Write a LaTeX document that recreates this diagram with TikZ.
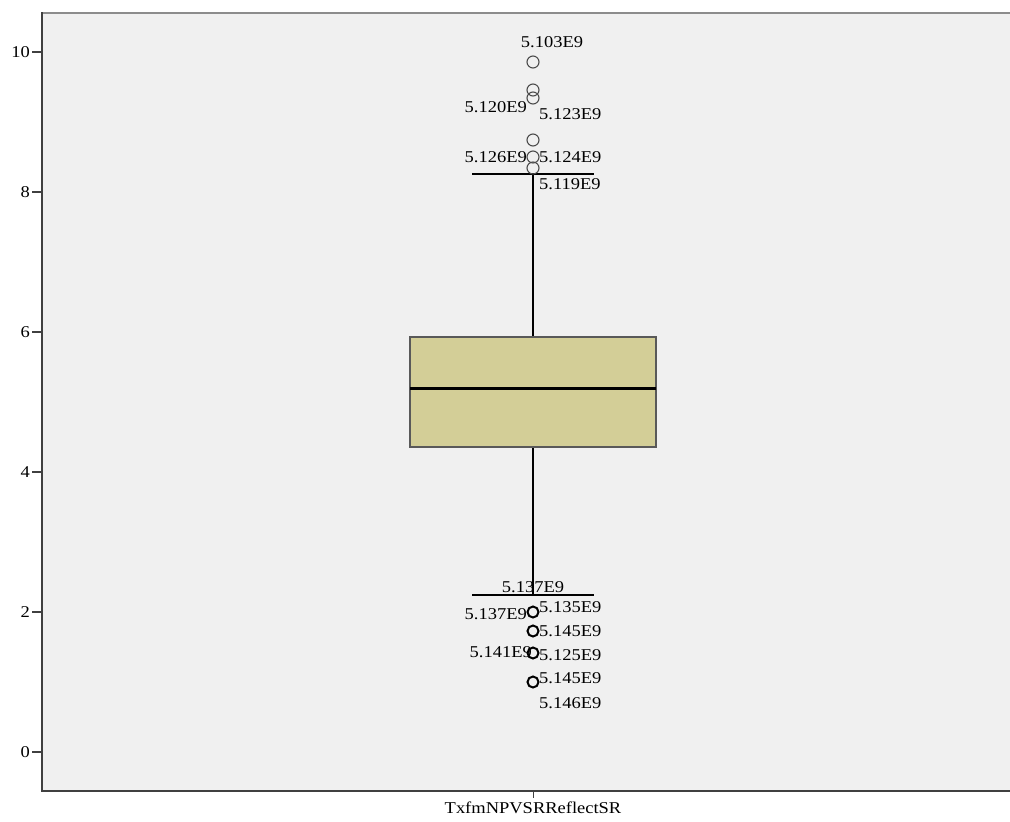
\documentclass[tikz,border=0pt]{standalone}
\usepackage{fontspec}
\setmainfont{Liberation Serif}[FakeStretch=1.12]
\definecolor{plotbg}{RGB}{240,240,240}
\definecolor{boxfill}{RGB}{211,206,151}
\definecolor{framegray}{RGB}{140,140,140}
\begin{document}
\begin{tikzpicture}[x=1pt, y=-1pt, font=\fontsize{16.5}{18}\selectfont,
    ticklabel/.style={anchor=east, inner sep=1pt},
    caselabel/.style={inner sep=0pt},
    outlier/.style={draw=black!70, line width=1.1pt, circle, minimum size=12pt, inner sep=0pt},
    farout/.style={draw=black, line width=2pt, circle, minimum size=11pt, inner sep=0pt}]
    \useasboundingbox (0,0) rectangle (1010,822);

    % Plot area
    \fill[plotbg] (42,12) rectangle (1010,791);
    \draw[framegray, line width=2.5pt] (43,13) -- (1010,13);
    \draw[black!75, line width=1.3pt] (42,12) -- (42,791) -- (1010,791);

    % Y axis
    \foreach \v in {0,2,...,10} {
        \draw[black!75, line width=1.1pt] (32,752-70*\v) -- (42,752-70*\v);
        \node[ticklabel] (tick\v) at (31,752-70*\v) {\v};
    }

    % X axis
    \draw[black!75, line width=1pt] (533,791) -- (533,798);
    \node[anchor=north, inner sep=0pt] (varname) at (533,802) {TxfmNPVSRReflectSR};

    % Whiskers
    \coordinate (uppercap) at (533,174);
    \coordinate (lowercap) at (533,595);
    \draw[black, line width=2.3pt] (uppercap) -- (533,337);
    \draw[black, line width=2.3pt] (533,447) -- (lowercap);
    \draw[black, line width=2.3pt] (472,174) -- (594,174);
    \draw[black, line width=2.3pt] (472,595) -- (594,595);

    % Box
    \draw[fill=boxfill, draw=black!65, line width=1.2pt] (410,337) rectangle (656,447);
    \draw[black, line width=3pt] (410,388) -- (656,388);

    % Upper outliers
    \node[outlier] (o1) at (533,62) {};
    \node[outlier] (o2) at (533,90) {};
    \node[outlier] (o3) at (533,98) {};
    \node[outlier] (o4) at (533,140) {};
    \node[outlier] (o5) at (533,157) {};
    \node[outlier] (o6) at (533,168) {};

    \node[caselabel] (l1) at (552,42) {5.103E9};
    \node[caselabel, anchor=east] (l2) at (527,107) {5.120E9};
    \node[caselabel, anchor=west] (l3) at (539,114) {5.123E9};
    \node[caselabel, anchor=east] (l4) at (527,157) {5.126E9};
    \node[caselabel, anchor=west] (l5) at (539,157) {5.124E9};
    \node[caselabel, anchor=west] (l6) at (539,184) {5.119E9};

    % Lower outliers
    \node[farout] (o7) at (533,612) {};
    \node[farout] (o8) at (533,631) {};
    \node[farout] (o9) at (533,653) {};
    \node[farout] (o10) at (533,682) {};

    \node[caselabel] (l7) at (533,587) {5.137E9};
    \node[caselabel, anchor=east] (l8) at (527,614) {5.137E9};
    \node[caselabel, anchor=west] (l9) at (539,607) {5.135E9};
    \node[caselabel, anchor=west] (l10) at (539,631) {5.145E9};
    \node[caselabel, anchor=east] (l11) at (532,652) {5.141E9};
    \node[caselabel, anchor=west] (l12) at (539,655) {5.125E9};
    \node[caselabel, anchor=west] (l13) at (539,678) {5.145E9};
    \node[caselabel, anchor=west] (l14) at (539,703) {5.146E9};
\end{tikzpicture}
\end{document}
